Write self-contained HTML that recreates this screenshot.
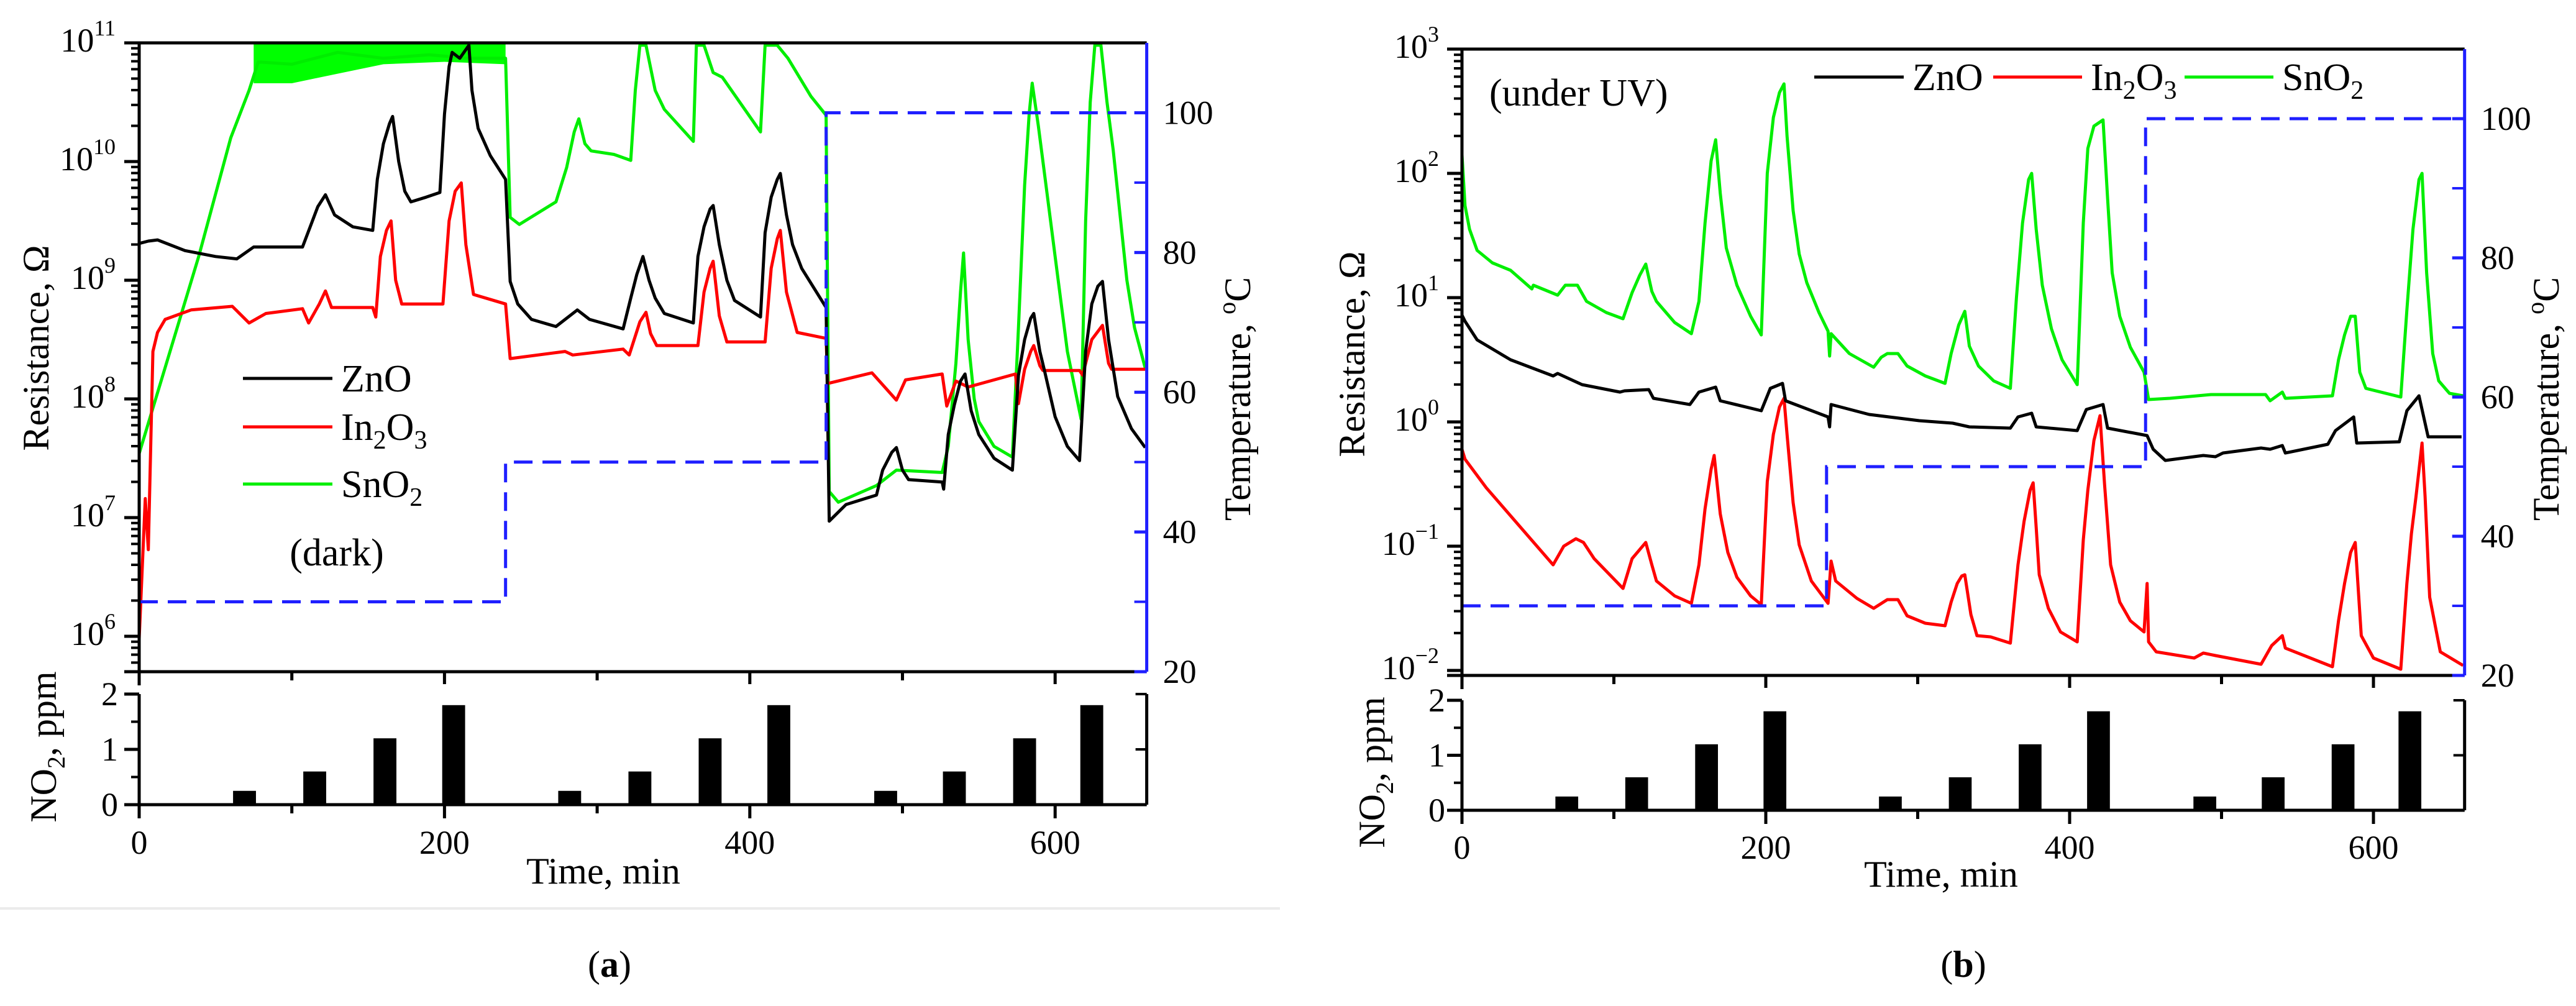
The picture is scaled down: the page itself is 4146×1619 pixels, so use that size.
<!DOCTYPE html>
<html><head><meta charset="utf-8"><style>
html,body{margin:0;padding:0;background:#fff}
svg{display:block;font-family:"Liberation Serif",serif}
svg text{font-family:"Liberation Serif","Times New Roman",serif}
</style></head><body>
<svg id="fig" xmlns="http://www.w3.org/2000/svg" width="4146" height="1619" viewBox="0 0 4146 1619" font-family="Liberation Serif, serif">
<defs>
<clipPath id="clipA"><rect x="224" y="69" width="1622" height="1012"/></clipPath>
<clipPath id="clipB"><rect x="2353" y="79" width="1614" height="1008"/></clipPath>
</defs>
<line x1="0" y1="1462" x2="2060" y2="1462" stroke="#ebebeb" stroke-width="4"/>
<text x="981" y="1572" font-size="60" text-anchor="middle">(<tspan font-weight="bold">a</tspan>)</text>
<text x="3160" y="1572" font-size="60" text-anchor="middle">(<tspan font-weight="bold">b</tspan>)</text>
</svg>
<script>
// ---------- shared data ----------
const barTimes=[69,115,161,206,282,328,374,419,489,534,580,624];
const barValues=[0.25,0.6,1.2,1.8,0.25,0.6,1.2,1.8,0.25,0.6,1.2,1.8];
const tempTimes=[0,240,240,450,450,660];
const tempValues=[30,30,50,50,100,100];
const timeTicks=[0,200,400,600];
const timeMinorTicks=[100,300,500];
const tempTicks=[20,40,60,80,100];
const tempMinorTicks=[30,50,70,90];
const barTicks=[0,1,2];

// ---------- panel (a) dark, log10 resistance ----------
const timeA_zno=[0,6,12,30,50,64,75,107,112,117,122,128,140,153,156,160,164,166,170,174,178,188,197,200,203,205,210,216,218,222,230,240,243,248,257,273,287,295,317,322,326,330,334,338,344,363,366,370,374,376,380,385,390,407,410,414,418,420,424,428,434,450,452,463,483,487,493,496,500,504,526,527,530,534,538,541,545,550,560,572,576,580,584,586,590,593,600,608,616,620,624,628,631,635,641,650,659];
const logA_zno=[9.31,9.33,9.34,9.25,9.20,9.18,9.28,9.28,9.45,9.62,9.72,9.55,9.45,9.42,9.85,10.15,10.32,10.38,10.0,9.75,9.66,9.70,9.74,10.4,10.8,10.92,10.87,10.98,10.6,10.28,10.05,9.85,8.99,8.80,8.67,8.61,8.75,8.67,8.59,8.85,9.05,9.20,9.0,8.85,8.72,8.64,9.2,9.45,9.60,9.63,9.30,9.0,8.83,8.69,9.4,9.70,9.85,9.90,9.55,9.30,9.10,8.77,6.97,7.11,7.19,7.40,7.55,7.59,7.40,7.32,7.30,7.24,7.70,7.95,8.15,8.21,7.90,7.70,7.50,7.40,8.2,8.50,8.68,8.72,8.40,8.24,7.85,7.6,7.48,8.4,8.80,8.95,8.99,8.50,8.02,7.75,7.59];
const timeA_in=[0,4,6,9,12,17,34,61,72,83,107,111,118,122,126,153,155,158,162,165,168,172,197,199,203,207,211,214,219,240,243,279,284,317,321,328,332,335,339,363,366,370,374,376,380,385,407,410,414,418,420,424,431,450,451,480,496,502,526,529,535,543,574,576,580,584,586,590,592,616,618,624,631,635,637,659];
const logA_in=[5.98,7.16,6.73,8.40,8.56,8.67,8.75,8.78,8.64,8.72,8.76,8.64,8.80,8.91,8.77,8.77,8.69,9.2,9.42,9.50,9.0,8.80,8.80,8.80,9.5,9.75,9.82,9.3,8.88,8.80,8.34,8.40,8.37,8.42,8.37,8.65,8.73,8.55,8.45,8.45,8.45,8.9,9.1,9.16,8.7,8.48,8.48,8.48,9.1,9.35,9.42,8.9,8.56,8.51,8.13,8.22,7.99,8.16,8.21,7.94,8.15,8.10,8.21,7.96,8.25,8.40,8.45,8.28,8.24,8.24,8.20,8.5,8.62,8.30,8.25,8.25];
const timeA_sn=[0,39,60,72,78,100,130,160,190,215,240,243,249,273,280,285,288,292,296,311,322,325,328,332,338,344,363,365,370,376,382,407,410,418,425,440,450,452,458,483,496,526,530,535,538,540,543,547,550,560,572,576,580,583,585,589,594,600,608,617,620,623,626,630,634,638,641,647,652,659];
const logA_sn=[7.54,9.20,10.2,10.60,10.84,10.82,10.92,10.87,10.90,10.87,10.87,9.53,9.47,9.66,9.95,10.25,10.36,10.15,10.09,10.06,10.01,10.6,10.98,10.98,10.6,10.44,10.17,10.98,10.98,10.75,10.71,10.25,10.98,10.98,10.87,10.55,10.39,7.22,7.13,7.27,7.40,7.38,7.6,8.3,8.9,9.23,8.5,8.0,7.81,7.6,7.51,8.6,9.8,10.4,10.66,10.3,9.8,9.20,8.4,7.83,9.5,10.5,10.98,10.98,10.5,10.1,9.74,9.0,8.6,8.26];
const timeA_snBand=[75,100,130,160,200,240];
const logA_snBandLow=[10.66,10.66,10.74,10.82,10.84,10.82];
const logTicksA=[6,7,8,9,10,11];

// ---------- panel (b) under UV ----------
const timeB_zno=[0,2,10,32,60,63,79,104,107,123,126,150,156,167,170,197,203,211,213,241,242,243,268,301,323,334,361,366,375,378,405,411,422,425,451,455,463,488,496,501,526,532,540,542,570,575,587,589,617,622,630,636,658];
const logB_zno=[0.86,0.81,0.66,0.50,0.37,0.39,0.30,0.24,0.25,0.26,0.19,0.14,0.24,0.28,0.17,0.09,0.27,0.31,0.17,0.04,-0.04,0.14,0.06,0.01,-0.01,-0.04,-0.05,0.04,0.07,-0.04,-0.07,0.10,0.14,-0.05,-0.11,-0.22,-0.31,-0.27,-0.28,-0.25,-0.21,-0.22,-0.19,-0.25,-0.18,-0.07,0.04,-0.17,-0.16,0.09,0.21,-0.12,-0.12];
const timeB_in=[0,2,16,38,60,67,75,80,87,106,112,121,125,128,140,151,156,160,164,166,170,175,181,190,197,201,205,209,212,214,218,222,230,241,243,246,260,271,280,287,293,305,318,322,326,329,331,335,339,348,361,366,370,374,376,378,380,386,394,405,409,412,416,420,423,427,433,440,449,451,452,457,482,488,496,526,533,540,542,573,577,581,585,588,590,592,600,618,622,625,628,632,634,637,644,659];
const logB_in=[-0.22,-0.30,-0.53,-0.84,-1.15,-1.0,-0.94,-0.97,-1.10,-1.34,-1.10,-0.97,-1.15,-1.28,-1.40,-1.46,-1.15,-0.70,-0.38,-0.27,-0.74,-1.05,-1.25,-1.40,-1.47,-0.48,-0.10,0.12,0.19,-0.10,-0.65,-0.99,-1.28,-1.46,-1.12,-1.28,-1.42,-1.50,-1.43,-1.43,-1.56,-1.62,-1.64,-1.45,-1.30,-1.24,-1.23,-1.55,-1.72,-1.73,-1.78,-1.15,-0.80,-0.55,-0.49,-0.85,-1.23,-1.50,-1.69,-1.77,-0.95,-0.55,-0.15,0.05,-0.50,-1.15,-1.45,-1.60,-1.69,-1.30,-1.77,-1.85,-1.90,-1.86,-1.88,-1.95,-1.80,-1.72,-1.82,-1.97,-1.6,-1.30,-1.05,-0.97,-1.35,-1.72,-1.90,-1.99,-1.30,-0.90,-0.60,-0.17,-0.60,-1.41,-1.85,-1.96];
const timeB_sn=[0,2,5,10,20,32,46,47,63,68,76,82,95,106,112,117,121,125,128,140,151,156,160,164,167,170,174,181,190,197,201,205,209,212,214,218,222,227,235,241,242,243,255,271,276,280,287,293,305,318,322,327,331,334,340,350,361,365,369,373,375,378,382,388,395,405,409,412,416,422,425,428,433,440,449,452,466,493,529,532,540,542,573,577,581,585,588,591,595,618,622,626,630,632,635,639,643,650,659];
const logB_sn=[2.15,1.74,1.55,1.38,1.28,1.22,1.07,1.10,1.02,1.10,1.10,0.97,0.88,0.83,1.04,1.18,1.27,1.05,0.97,0.80,0.71,0.97,1.60,2.10,2.27,1.84,1.40,1.10,0.85,0.70,2.00,2.45,2.65,2.72,2.30,1.70,1.35,1.12,0.88,0.73,0.53,0.71,0.55,0.44,0.52,0.55,0.55,0.45,0.37,0.31,0.55,0.78,0.89,0.61,0.45,0.33,0.27,1.0,1.6,1.95,2.00,1.55,1.10,0.75,0.50,0.30,1.6,2.2,2.38,2.43,1.8,1.20,0.85,0.60,0.40,0.18,0.19,0.22,0.22,0.17,0.24,0.19,0.21,0.50,0.70,0.85,0.85,0.40,0.27,0.20,0.9,1.55,1.95,2.00,1.2,0.55,0.33,0.23,0.21];
const logTicksB=[-2,-1,0,1,2,3];

const NS='http://www.w3.org/2000/svg';
const svg=document.getElementById('fig');
function mk(tag,attrs,parent){const e=document.createElementNS(NS,tag);for(const k in attrs)e.setAttribute(k,attrs[k]);if(tag==='text')e.setAttribute('font-family','Liberation Serif, serif');(parent||svg).appendChild(e);return e;}

function drawPanel(c){
  const g=mk('g',{});
  
  
  const X=t=>c.x0+t*c.ppm;
  const Y=l=>c.top+(c.lmax-l)*c.dec;
  const TY=T=>c.bot-(T-20)*(c.bot-c.top)/90;
  const BY=v=>c.b0-v*(c.b0-c.b2)/2;
  const xR=X(660);
  const S=c.sw;
  if(c.band){
    let pts=c.band.t.map((t,i)=>X(t)+','+Y(c.band.l[i])).join(' ');
    pts+=' '+X(c.band.t[c.band.t.length-1])+','+Y(c.lmax)+' '+X(c.band.t[0])+','+Y(c.lmax);
    const b=mk('polygon',{points:pts,fill:'#00ff00','clip-path':c.clip},g);
    
    
  }
  c.series.forEach(s=>{
    const p=mk('polyline',{points:s.t.map((t,i)=>X(t).toFixed(1)+','+Y(s.l[i]).toFixed(1)).join(' '),fill:'none',stroke:s.color,'stroke-width':S,'stroke-linejoin':'round','clip-path':c.clip},g);
    
    
  });
  const tp=mk('polyline',{points:tempTimes.map((t,i)=>X(t)+','+TY(tempValues[i])).join(' '),fill:'none',stroke:'#1f1fff','stroke-width':5,'stroke-dasharray':'30 16'},g);
  
  
  const ax={stroke:'#000','stroke-width':5};
  const top=mk('line',Object.assign({x1:c.x0-24,y1:c.top,x2:xR,y2:c.top},ax),g);
  
  
  const la=mk('line',Object.assign({x1:c.x0,y1:c.top,x2:c.x0,y2:c.bot+22},ax),g);
  
  
  const ba=mk('line',Object.assign({x1:c.x0-24,y1:c.bot,x2:xR,y2:c.bot},ax),g);
  
  
  const ra=mk('line',{x1:xR,y1:c.top,x2:xR,y2:c.bot,stroke:'#1f1fff','stroke-width':5},g);
  
  
  c.logTicks.forEach(l=>{
    const y=Y(l);
    const tk=mk('line',{x1:c.x0-24,y1:y,x2:c.x0,y2:y,stroke:'#000','stroke-width':5},g);
    
    
    const tx=mk('text',{x:c.labR,y:y+14,'font-size':54,'text-anchor':'end'},g);
    
    
    tx.appendChild(document.createTextNode('10'));
    const sup=mk('tspan',{dy:-26,'font-size':36},tx);
    sup.textContent=(l<0?'\u2212'+(-l):''+l);
    for(let m=2;m<=9;m++){
      const lm=l-1+Math.log10(m);
      if(lm<c.lmin) continue;
      const ym=Y(lm);
      const mt=mk('line',{x1:c.x0-13,y1:ym,x2:c.x0,y2:ym,stroke:'#000','stroke-width':4},g);
      
      
    }
  });
  tempTicks.forEach(T=>{
    const y=TY(T);
    const tk=mk('line',{x1:xR-20,y1:y,x2:xR,y2:y,stroke:'#1f1fff','stroke-width':5},g);
    
    
    const tx=mk('text',{x:xR+26,y:y+18,'font-size':54},g);
    
    
    tx.textContent=T;
  });
  tempMinorTicks.forEach(T=>{
    const y=TY(T);
    const tk=mk('line',{x1:xR-20,y1:y,x2:xR,y2:y,stroke:'#1f1fff','stroke-width':4},g);
    
    
  });
  timeTicks.concat(timeMinorTicks).forEach(t=>{
    const x=X(t); const major=timeTicks.includes(t);
    const a=mk('line',{x1:x,y1:c.bot,x2:x,y2:c.bot+(major&&t!==0?20:14),stroke:'#000','stroke-width':5},g);
    
    
    const b=mk('line',{x1:x,y1:c.b0,x2:x,y2:c.b0+(major?22:14),stroke:'#000','stroke-width':5},g);
    
    
    if(major){
      const tx=mk('text',{x:x,y:c.xlabY,'font-size':54,'text-anchor':'middle'},g);
      
      
      tx.textContent=t;
    }
  });
  const bl=mk('line',{x1:c.x0,y1:c.b2,x2:c.x0,y2:c.b0+22,stroke:'#000','stroke-width':5},g);
  
  
  const bb=mk('line',{x1:c.x0-24,y1:c.b0,x2:xR,y2:c.b0,stroke:'#000','stroke-width':5},g);
  
  
  const br=mk('line',{x1:xR,y1:c.b2,x2:xR,y2:c.b0,stroke:'#000','stroke-width':5},g);
  
  
  barTicks.forEach(v=>{
    const y=BY(v);
    const tk=mk('line',{x1:c.x0-24,y1:y,x2:c.x0,y2:y,stroke:'#000','stroke-width':5},g);
    
    
    const rt=mk('line',{x1:xR-18,y1:y,x2:xR,y2:y,stroke:'#000','stroke-width':4},g);
    
    
    const tx=mk('text',{x:c.barLabR,y:y+18,'font-size':54,'text-anchor':'end'},g);
    
    
    tx.textContent=v;
  });
  [0.5,1.5].forEach(v=>{
    const y=BY(v);
    const tk=mk('line',{x1:c.x0-13,y1:y,x2:c.x0,y2:y,stroke:'#000','stroke-width':4},g);
    
    
  });
  barTimes.forEach((t,i)=>{
    const r=mk('rect',{x:X(t-7.5),y:BY(barValues[i]),width:15*c.ppm,height:c.b0-BY(barValues[i]),fill:'#000'},g);
    
    
  });
  const rt=mk('text',{x:c.resX,y:c.resY,'font-size':60,'text-anchor':'middle',transform:`rotate(-90 ${c.resX} ${c.resY})`},g);
  
  
  rt.textContent='Resistance, \u03A9';
  const nt=mk('text',{x:c.no2X,y:c.no2Y,'font-size':60,'text-anchor':'middle',transform:`rotate(-90 ${c.no2X} ${c.no2Y})`},g);
  
  
  nt.innerHTML='NO<tspan dy="14" font-size="40">2</tspan><tspan dy="-14">, ppm</tspan>';
  const tt=mk('text',{x:c.tempX,y:c.tempY,'font-size':60,'text-anchor':'middle',transform:`rotate(-90 ${c.tempX} ${c.tempY})`},g);
  
  
  tt.innerHTML='Temperature, <tspan dy="-24" font-size="40">o</tspan><tspan dy="24">C</tspan>';
  const xt=mk('text',{x:c.timeX,y:c.timeY,'font-size':60,'text-anchor':'middle'},g);
  
  
  xt.textContent='Time, min';
  c.legend.forEach(L=>{
    const ln=mk('line',{x1:L.x1,y1:L.y,x2:L.x2,y2:L.y,stroke:L.color,'stroke-width':5},g);
    
    
    const tx=mk('text',{x:L.x2+14,y:L.y+21,'font-size':62},g);
    
    
    tx.innerHTML=L.html;
  });
  const nl=mk('text',{x:c.note.x,y:c.note.y,'font-size':62,'text-anchor':c.note.anchor},g);
  
  
  nl.textContent=c.note.text;
}

const ZN='ZnO', IN='In<tspan dy="14" font-size="42">2</tspan><tspan dy="-14">O</tspan><tspan dy="14" font-size="42">3</tspan>', SN='SnO<tspan dy="14" font-size="42">2</tspan>';

drawPanel({id:'panel-a',x0:224,ppm:2.457,top:69,bot:1081,lmax:11,lmin:5.7,dec:191,b0:1295,b2:1117,sw:5,clip:'url(#clipA)',
  labR:186,barLabR:190,xlabY:1374,resX:78,resY:560,no2X:90,no2Y:1202,tempX:2012,tempY:642,timeX:971,timeY:1422,
  band:{t:timeA_snBand,l:logA_snBandLow},
  series:[{name:'sno2',color:'#00ee00',t:timeA_sn,l:logA_sn},{name:'in2o3',color:'#ff0000',t:timeA_in,l:logA_in},{name:'zno',color:'#000',t:timeA_zno,l:logA_zno}],
  logTicks:logTicksA,
  legend:[{x1:391,x2:535,y:609,color:'#000',html:ZN},{x1:391,x2:535,y:687,color:'#ff0000',html:IN},{x1:391,x2:535,y:779,color:'#00ee00',html:SN}],
  note:{x:542,y:910,text:'(dark)',anchor:'middle'}});

drawPanel({id:'panel-b',x0:2353,ppm:2.445,top:79,bot:1087,lmax:3,lmin:-2.04,dec:200,b0:1304,b2:1127,sw:5,clip:'url(#clipB)',
  labR:2316,barLabR:2326,xlabY:1382,resX:2196,resY:570,no2X:2228,no2Y:1243,tempX:4118,tempY:642,timeX:3124,timeY:1427,
  series:[{name:'sno2',color:'#00ee00',t:timeB_sn,l:logB_sn},{name:'in2o3',color:'#ff0000',t:timeB_in,l:logB_in},{name:'zno',color:'#000',t:timeB_zno,l:logB_zno}],
  logTicks:logTicksB,
  legend:[{x1:2920,x2:3064,y:124,color:'#000',html:ZN},{x1:3208,x2:3351,y:124,color:'#ff0000',html:IN},{x1:3516,x2:3659,y:124,color:'#00ee00',html:SN}],
  note:{x:2397,y:170,text:'(under UV)',anchor:'start'}});
</script>
</body></html>
